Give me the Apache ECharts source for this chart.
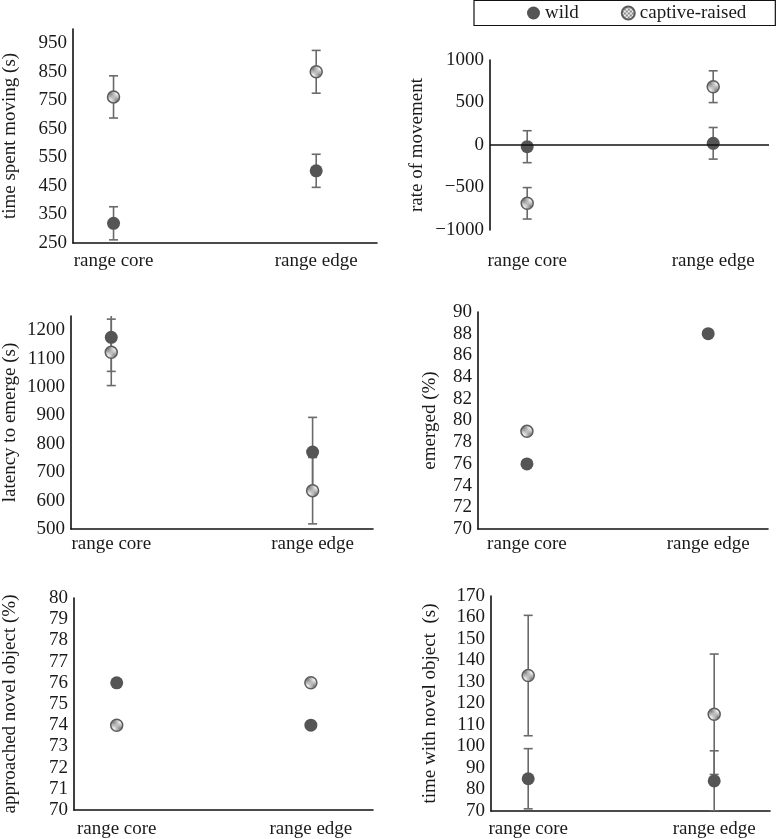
<!DOCTYPE html>
<html>
<head>
<meta charset="utf-8">
<script src="https://cdn.jsdelivr.net/npm/echarts@6/dist/echarts.min.js"></script>
<style>
html,body{margin:0;padding:0;background:#fff;}
#main{width:778px;height:839px;}
</style>
</head>
<body>
<div id="main"></div>
<script>
// ---------- data ----------
const categories = ['range core', 'range edge'];
const seriesNames = ['wild', 'captive-raised'];

const movingWild = [319, 503];
const movingWildErr = [58, 58];
const movingCapt = [762, 850];
const movingCaptErr = [74, 75];

const rateWild = [-20, 20];
const rateWildErr = [188, 186];
const rateCapt = [-686, 686];
const rateCaptErr = [185, 187];

const latencyWild = [1175, 771];
const latencyWildErr = [120, 122];
const latencyCapt = [1122, 635];
const latencyCaptErr = [117, 117];

const emergedWild = [76, 88];
const emergedCapt = [79, null];

const approachedWild = [76, 74];
const approachedCapt = [74, 76];

const novelWild = [85, 84];
const novelWildErr = [14, 14];
const novelCapt = [133, 115];
const novelCaptErr = [28, 28];

const yTitles = ['time spent moving (s)', 'rate of movement', 'latency to emerge (s)',
                 'emerged (%)', 'approached novel object (%)', 'time with novel object  (s)'];

// ---------- styles ----------
const FONT = "'Liberation Serif', 'Times New Roman', serif";
const TXT = '#1a1a1a';
const WILD_COLOR = '#555555';
const ERR_COLOR = '#6a6a6a';

const pat = document.createElement('canvas');
pat.width = 4; pat.height = 4;
(function () {
  const c = pat.getContext('2d');
  c.fillStyle = '#f0f0f0'; c.fillRect(0, 0, 4, 4);
  c.fillStyle = '#888888';
  c.fillRect(0, 0, 2, 2); c.fillRect(2, 2, 2, 2);
})();
const CAPT_FILL = { image: pat, repeat: 'repeat' };

const panels = [
  { grid: { left: 71, top: 29, width: 306, height: 214 }, ymin: 250, ymax: 1000, int: 100, hideMax: true,
    nameGap: 53, labelMargin: 9, xmin: -0.2, xmax: 1.3,
    wild: movingWild, wildErr: movingWildErr, capt: movingCapt, captErr: movingCaptErr },
  { grid: { left: 490, top: 60, width: 279, height: 170 }, ymin: -1000, ymax: 1000, int: 500, hideMax: false,
    nameGap: 63, labelMargin: 22, xmin: -0.2, xmax: 1.3, zeroLine: true,
    wild: rateWild, wildErr: rateWildErr, capt: rateCapt, captErr: rateCaptErr },
  { grid: { left: 71, top: 316, width: 302, height: 213 }, ymin: 500, ymax: 1250, int: 100, hideMax: true,
    nameGap: 51, labelMargin: 6, xmin: -0.2, xmax: 1.3,
    wild: latencyWild, wildErr: latencyWildErr, capt: latencyCapt, captErr: latencyCaptErr },
  { grid: { left: 478, top: 312, width: 290, height: 217 }, ymin: 70, ymax: 90, int: 2, hideMax: false,
    nameGap: 38, labelMargin: 6, xmin: -0.27, xmax: 1.33,
    wild: emergedWild, capt: emergedCapt },
  { grid: { left: 71, top: 598, width: 302, height: 212 }, ymin: 70, ymax: 80, int: 1, hideMax: false,
    nameGap: 54, labelMargin: 10, xmin: -0.22, xmax: 1.32,
    wild: approachedWild, capt: approachedCapt },
  { grid: { left: 491, top: 596, width: 279, height: 215 }, ymin: 70, ymax: 170, int: 10, hideMax: false,
    nameGap: 51, labelMargin: 9, xmin: -0.2, xmax: 1.3,
    wild: novelWild, wildErr: novelWildErr, capt: novelCapt, captErr: novelCaptErr }
];

function pts(vals) {
  const out = [];
  vals.forEach(function (v, i) { if (v != null) out.push([i, v]); });
  return out;
}
function errs(vals, e) {
  const out = [];
  vals.forEach(function (v, i) { if (v != null && e && e[i] != null) out.push([i, v - e[i], v + e[i]]); });
  return out;
}
function errRender(params, api) {
  const x = api.value(0);
  const lo = api.coord([x, api.value(1)]);
  const hi = api.coord([x, api.value(2)]);
  const cw = 4.5;
  const st = { stroke: ERR_COLOR, lineWidth: 1.6 };
  return {
    type: 'group',
    children: [
      { type: 'line', shape: { x1: lo[0], y1: lo[1], x2: hi[0], y2: hi[1] }, style: st },
      { type: 'line', shape: { x1: hi[0] - cw, y1: hi[1], x2: hi[0] + cw, y2: hi[1] }, style: st },
      { type: 'line', shape: { x1: lo[0] - cw, y1: lo[1], x2: lo[0] + cw, y2: lo[1] }, style: st }
    ]
  };
}

const grids = [], xAxes = [], yAxes = [], series = [];
panels.forEach(function (p, k) {
  grids.push(Object.assign({ containLabel: false }, p.grid));
  xAxes.push({
    type: 'value', gridIndex: k, min: p.xmin, max: p.xmax,
    axisLine: { show: !p.zeroLine, onZero: false, lineStyle: { color: '#111', width: 1.6 } },
    axisTick: { show: false }, splitLine: { show: false },
    axisLabel: {
      customValues: [0, 1], margin: p.labelMargin,
      formatter: function (v) { return categories[Math.round(v)]; },
      color: TXT, fontFamily: FONT, fontSize: 19
    }
  });
  yAxes.push({
    type: 'value', gridIndex: k, min: p.ymin, max: p.ymax, interval: p.int,
    name: yTitles[k], nameLocation: 'middle', nameGap: p.nameGap,
    nameTextStyle: { color: TXT, fontFamily: FONT, fontSize: 19 },
    axisLine: { show: true, onZero: false, lineStyle: { color: '#111', width: 1.6 } },
    axisTick: { show: false }, splitLine: { show: false },
    axisLabel: {
      showMaxLabel: p.hideMax ? false : true, margin: 6,
      color: TXT, fontFamily: FONT, fontSize: 19,
      formatter: function (v) { return String(v).replace('-', '\u2212'); }
    }
  });
  if (p.wildErr) series.push({ type: 'custom', xAxisIndex: k, yAxisIndex: k, renderItem: errRender,
    data: errs(p.wild, p.wildErr), encode: { x: 0, y: [1, 2] }, clip: true, z: 2, silent: true });
  if (p.captErr) series.push({ type: 'custom', xAxisIndex: k, yAxisIndex: k, renderItem: errRender,
    data: errs(p.capt, p.captErr), encode: { x: 0, y: [1, 2] }, clip: true, z: 2, silent: true });
  const wildS = { name: seriesNames[0], type: 'scatter', xAxisIndex: k, yAxisIndex: k, data: pts(p.wild),
    symbol: 'circle', symbolSize: 13, itemStyle: { color: WILD_COLOR, opacity: 1 }, z: 3 };
  if (p.zeroLine) {
    wildS.markLine = { silent: true, symbol: 'none', label: { show: false },
      lineStyle: { color: '#111', width: 1.6, type: 'solid' }, data: [{ yAxis: 0 }] };
  }
  series.push(wildS);
  series.push({ name: seriesNames[1], type: 'scatter', xAxisIndex: k, yAxisIndex: k, data: pts(p.capt),
    symbol: 'circle', symbolSize: 12,
    itemStyle: { color: CAPT_FILL, borderColor: '#5c5c5c', borderWidth: 1.5, opacity: 1 }, z: 4 });
});

const chart = echarts.init(document.getElementById('main'), null, { renderer: 'canvas' });
chart.setOption({
  animation: false,
  backgroundColor: '#ffffff',
  legend: {
    data: seriesNames, left: 474, top: 0.5, orient: 'horizontal', width: 400,
    padding: [3, 29, 3, 53], itemGap: 42, itemWidth: 13, itemHeight: 13,
    borderColor: '#111', borderWidth: 1.2, selectedMode: false,
    textStyle: { color: TXT, fontFamily: FONT, fontSize: 19 }
  },
  grid: grids, xAxis: xAxes, yAxis: yAxes, series: series
});
</script>
</body>
</html>
